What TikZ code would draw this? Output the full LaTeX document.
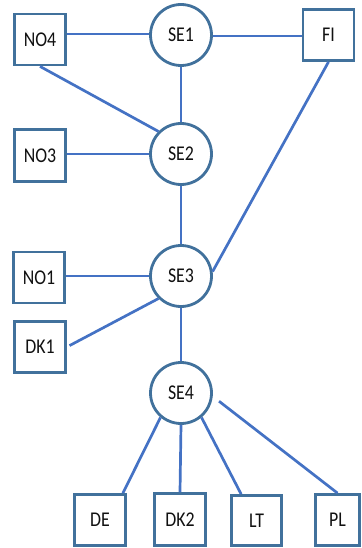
\documentclass[tikz,border=0pt]{standalone}
\usepackage{fontspec}
\setmainfont{Carlito}
\usepackage{graphicx}
\definecolor{borderblue}{HTML}{41719C}
\definecolor{lineblue}{HTML}{4472C4}
\definecolor{textgray}{HTML}{111111}
\newcommand{\lbl}[1]{\scalebox{0.85}[1]{#1}}
\begin{document}
\begin{tikzpicture}[x=1pt,y=-1pt,
  boxnode/.style={draw=borderblue, line width=2.8pt, fill=white, rectangle,
    minimum width=51pt, minimum height=51pt, inner sep=0pt, text=textgray,
    font=\fontsize{21}{24}\selectfont},
  hubnode/.style={draw=borderblue, line width=2.8pt, fill=white, circle,
    minimum size=61pt, inner sep=0pt, text=textgray,
    font=\fontsize{21}{24}\selectfont},
  link/.style={draw=lineblue, line width=2.7pt}]
\useasboundingbox (0,0) rectangle (361,548);
% hubs
\node[hubnode] (se1) at (181,35) {\lbl{SE1}};
\node[hubnode] (se2) at (181,154) {\lbl{SE2}};
\node[hubnode] (se3) at (181,276) {\lbl{SE3}};
\node[hubnode] (se4) at (181,393) {\lbl{SE4}};
% boxes
\node[boxnode] (no4) at (40,39.5) {\lbl{NO4}};
\node[boxnode] (fi) at (328.5,35) {\lbl{FI}};
\node[boxnode, minimum height=52pt] (no3) at (40,155.5) {\lbl{NO3}};
\node[boxnode] (no1) at (39,277.5) {\lbl{NO1}};
\node[boxnode] (dk1) at (40,347) {\lbl{DK1}};
\node[boxnode] (de) at (100,520) {\lbl{DE}};
\node[boxnode, minimum height=52pt] (dk2) at (180,519.5) {\lbl{DK2}};
\node[boxnode, minimum width=50pt, minimum height=50pt] (lt) at (256.5,520.5) {\lbl{LT}};
\node[boxnode, minimum width=44pt] (pl) at (337.5,520) {\lbl{PL}};
% connectors
\path[link] ([yshift=1pt]se1.west -| no4.east) -- ([yshift=1pt]se1.west);
\path[link] ([yshift=-1pt]se1.east) -- ([yshift=-1pt]se1.east -| fi.west);
\path[link] (se1.south) -- (se2.north);
\path[link] (no4.south) -- (se2.135);
\path[link] (fi.south) -- (se3.8);
\path[link] (se2.west -| no3.east) -- (se2.west);
\path[link] (se2.south) -- (se3.north);
\path[link] (se3.west -| no1.east) -- (se3.west);
\path[link, shorten <=3pt] (dk1.east) -- (se3.225);
\path[link] (se3.south) -- (se4.north);
\path[link] (se4.230) -- ([xshift=-4pt]de.north east);
\path[link] (se4.south) -- (dk2.north);
\path[link] (se4.-50) -- ([xshift=11pt]lt.north west);
\path[link, shorten <=8pt] (se4.-6) -- (pl.north);
\end{tikzpicture}
\end{document}
